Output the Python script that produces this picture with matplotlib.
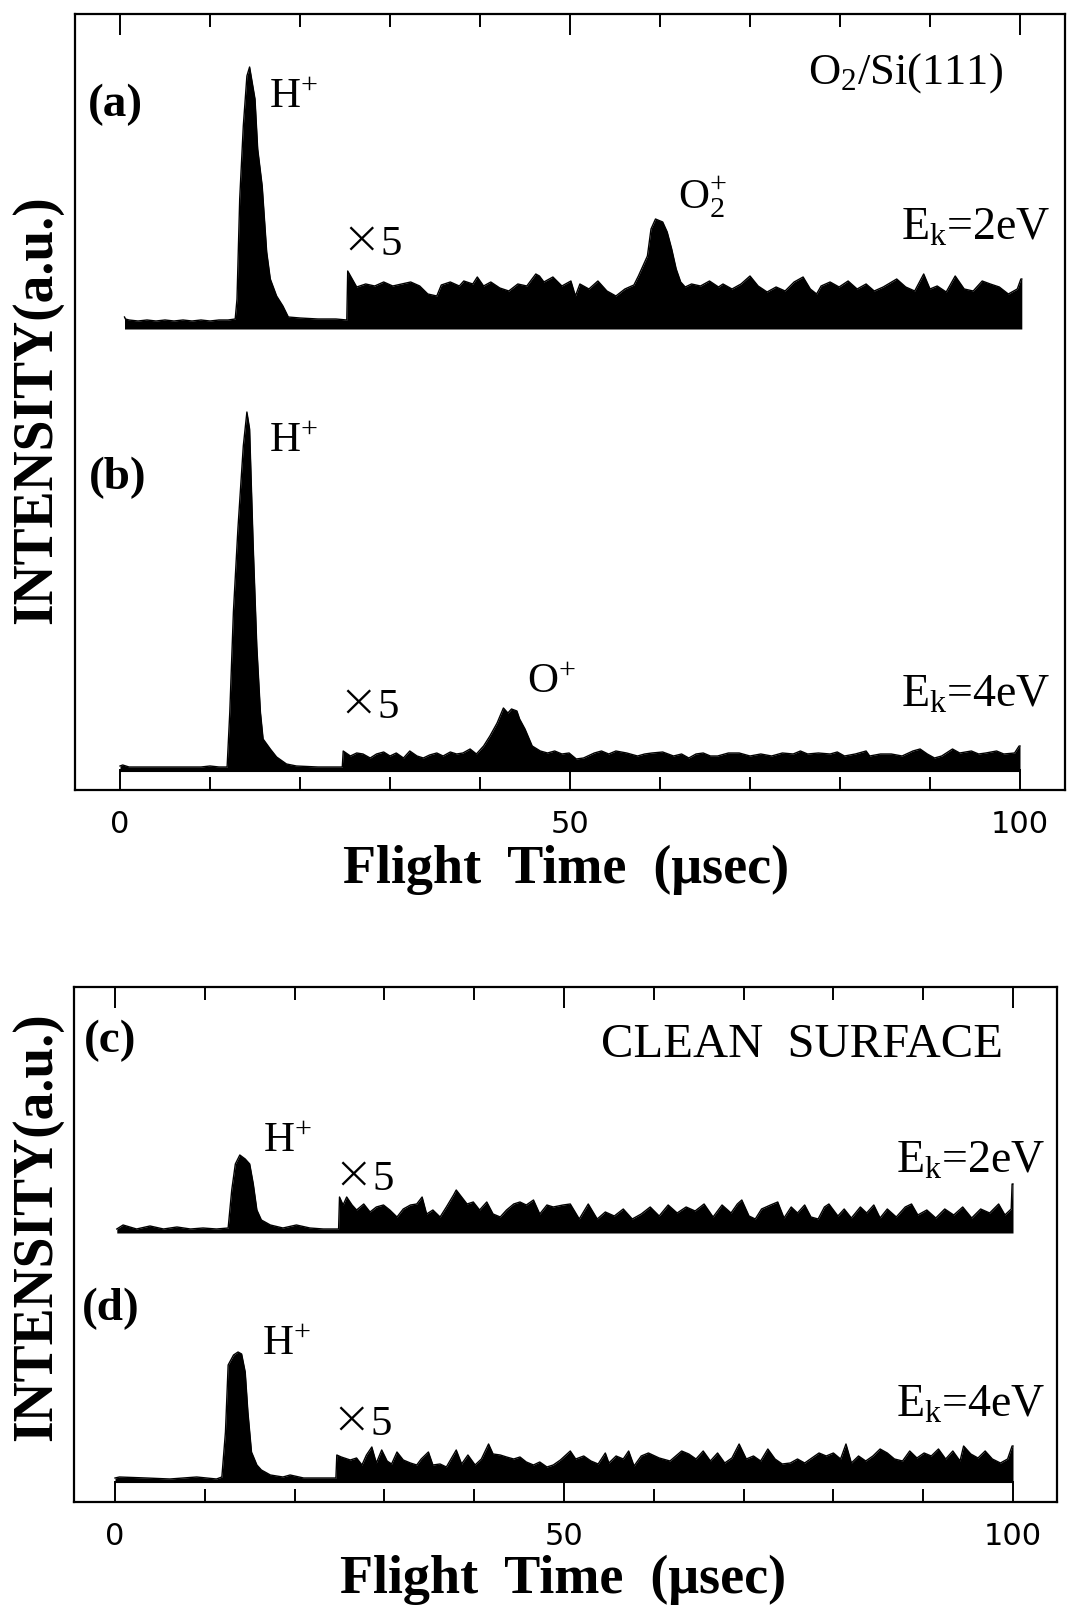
import matplotlib
matplotlib.use("Agg")
import matplotlib.pyplot as plt
import numpy as np

plt.rcParams['font.family'] = ['Liberation Serif', 'DejaVu Serif']
plt.rcParams['mathtext.fontset'] = 'custom'
plt.rcParams['mathtext.rm'] = 'Liberation Serif'
plt.rcParams['mathtext.it'] = 'Liberation Serif:italic'
plt.rcParams['mathtext.bf'] = 'Liberation Serif:bold'

# ---------------- data (intensity in arbitrary units) -------------
# (a) O2/Si(111), Ek = 2 eV  (region t > 25 us shown x5)
a_time = [0.5, 0.6, 1.0, 2.0, 3.0, 4.0, 5.0, 6.0, 7.0, 8.0, 9.0, 10.0, 11.0, 12.0, 12.8, 13.0,
          13.3, 13.7, 14.1, 14.4, 15.0, 15.3, 15.8, 16.3, 16.7, 17.4, 18.1, 18.7, 20.0, 22.0,
          24.0, 25.2, 25.3, 25.8, 26.3, 27.3, 28.3, 29.3, 30.3, 31.3, 32.3, 33.3, 34.2, 35.2,
          35.7, 36.7, 37.7, 38.2, 39.2, 39.7, 40.4, 41.2, 42.2, 43.2, 44.2, 45.2, 46.2, 46.6,
          47.1, 48.1, 49.1, 50.1, 50.6, 51.1, 52.1, 53.1, 54.1, 55.1, 56.1, 57.1, 57.6, 58.1,
          58.6, 59.0, 59.5, 60.3, 60.8, 61.3, 61.8, 62.3, 62.8, 63.5, 64.5, 65.5, 66.5, 67.0,
          68.0, 69.0, 70.0, 70.9, 71.9, 72.9, 73.9, 74.9, 75.9, 76.7, 77.4, 77.9, 78.9, 79.9,
          80.9, 81.9, 82.9, 83.8, 84.8, 86.3, 87.3, 88.3, 89.3, 90.0, 90.8, 91.8, 92.8, 93.8,
          94.8, 95.8, 96.7, 97.7, 98.7, 99.7, 100.1, 100.2]
a_int = [12, 10, 9, 8, 9, 8, 9, 8, 9, 8, 9, 8, 9, 9, 10, 30,
         130, 203, 253, 262, 230, 180, 143, 77, 50, 33, 23, 12, 11, 10,
         10, 9, 58, 50, 42, 45, 43, 47, 43, 45, 47, 43, 35, 33,
         44, 47, 43, 48, 45, 52, 43, 47, 41, 38, 45, 43, 55, 53,
         47, 52, 43, 48, 33, 45, 40, 48, 38, 33, 40, 44, 53, 63,
         73, 100, 110, 107, 97, 80, 60, 47, 42, 45, 43, 48, 42, 45,
         40, 45, 53, 43, 37, 42, 38, 47, 52, 40, 35, 43, 47, 42,
         48, 40, 45, 38, 42, 50, 42, 38, 55, 40, 43, 37, 53, 40,
         38, 48, 45, 42, 35, 40, 50, 50]

# (b) O2/Si(111), Ek = 4 eV
b_time = [0.0, 0.3, 1.0, 3.0, 5.0, 7.0, 9.0, 10.0, 11.0, 11.9, 12.2, 12.6, 13.1, 13.7, 14.1,
          14.4, 14.8, 15.2, 15.6, 15.9, 16.7, 17.4, 18.5, 19.6, 22.0, 24.7, 24.8, 25.6, 26.3,
          27.0, 27.8, 28.5, 29.3, 30.0, 30.7, 31.5, 32.2, 33.0, 33.7, 34.4, 35.2, 35.9, 36.7,
          37.4, 38.1, 38.9, 39.6, 40.4, 41.1, 41.9, 42.6, 43.1, 43.5, 44.1, 44.4, 45.0, 45.8,
          46.7, 47.5, 48.3, 49.1, 49.9, 50.7, 51.5, 52.7, 53.5, 54.3, 55.1, 56.3, 57.5, 58.3,
          59.1, 60.3, 61.5, 62.4, 63.2, 64.0, 64.8, 65.6, 66.4, 67.6, 68.8, 70.0, 71.2, 72.4,
          73.6, 74.8, 75.6, 76.4, 77.6, 78.9, 79.7, 80.5, 81.7, 82.9, 83.3, 84.5, 85.7, 86.9,
          88.1, 88.9, 89.7, 90.5, 91.3, 92.5, 93.3, 94.6, 95.4, 96.2, 97.4, 98.2, 99.4, 99.9,
          100.0]
b_int = [5, 6, 4, 4, 4, 4, 4, 5, 4, 4, 59, 159, 242, 325, 359,
         342, 225, 125, 59, 32, 22, 14, 7, 5, 4, 4, 20, 15, 18,
         17, 13, 17, 19, 15, 18, 13, 20, 15, 13, 16, 18, 15, 19,
         17, 18, 22, 17, 25, 35, 48, 63, 58, 62, 60, 52, 42, 25,
         20, 18, 20, 17, 18, 12, 13, 18, 20, 17, 20, 18, 15, 17,
         18, 19, 15, 17, 13, 17, 18, 15, 15, 18, 18, 15, 17, 15,
         18, 17, 20, 17, 18, 17, 19, 15, 17, 20, 15, 17, 17, 15,
         20, 22, 17, 13, 15, 22, 18, 20, 17, 18, 20, 17, 18, 25,
         25]

# (c) clean surface, Ek = 2 eV
c_time = [0.2, 0.9, 2.4, 3.9, 5.4, 6.9, 8.4, 9.8, 11.3, 12.6, 13.0, 13.4, 13.9, 14.5, 15.0,
          15.4, 15.8, 16.3, 17.3, 18.7, 20.2, 21.7, 23.2, 24.9, 25.0, 25.4, 25.8, 26.4, 26.9,
          27.7, 28.4, 29.1, 29.9, 30.6, 31.4, 32.1, 32.9, 33.6, 34.2, 34.7, 35.4, 36.2, 36.9,
          37.7, 38.0, 38.6, 39.2, 39.9, 40.6, 41.4, 42.1, 42.9, 43.6, 44.4, 45.1, 45.8, 46.6,
          47.3, 48.1, 48.8, 49.9, 50.7, 51.7, 52.7, 53.7, 54.6, 55.6, 56.6, 57.6, 58.6, 59.6,
          60.6, 61.6, 62.6, 63.6, 64.6, 65.6, 66.6, 67.6, 68.6, 69.3, 69.8, 70.6, 71.3, 72.0,
          73.0, 73.8, 74.5, 75.3, 76.0, 76.8, 77.5, 78.3, 79.0, 79.5, 80.5, 81.2, 82.0, 83.0,
          83.7, 84.5, 85.2, 86.0, 87.0, 88.0, 88.7, 89.4, 90.4, 91.4, 92.4, 93.4, 94.4, 95.4,
          96.4, 97.4, 98.4, 99.1, 99.8, 99.9, 100.0]
c_int = [4, 8, 4, 7, 4, 6, 4, 5, 4, 5, 43, 69, 78, 74, 69,
         49, 23, 13, 8, 5, 8, 5, 4, 4, 36, 28, 36, 28, 23,
         29, 21, 26, 28, 23, 16, 24, 28, 29, 36, 19, 23, 16, 26,
         38, 43, 36, 29, 31, 23, 31, 19, 16, 23, 29, 31, 28, 33,
         19, 28, 26, 28, 29, 14, 29, 14, 21, 17, 24, 14, 19, 26,
         17, 28, 20, 26, 22, 29, 16, 28, 20, 29, 33, 17, 14, 24,
         28, 31, 15, 26, 20, 28, 16, 14, 26, 29, 17, 24, 15, 26,
         20, 28, 15, 24, 16, 26, 29, 18, 23, 15, 24, 18, 26, 15,
         24, 20, 29, 18, 24, 49, 49]

# (d) clean surface, Ek = 4 eV
d_time = [0.0, 0.5, 3.5, 6.1, 9.1, 11.3, 11.9, 12.3, 12.6, 13.2, 13.7, 14.1, 14.5, 14.8, 15.2,
          15.8, 16.3, 17.3, 18.7, 19.5, 21.0, 24.6, 24.7, 25.2, 26.2, 26.9, 27.5, 28.0, 28.6,
          29.1, 29.7, 30.3, 30.8, 31.4, 32.1, 32.9, 33.6, 34.1, 34.9, 35.4, 36.2, 36.9, 38.0,
          38.6, 39.3, 40.1, 40.8, 41.6, 42.1, 42.9, 43.6, 44.4, 45.1, 45.8, 46.6, 47.3, 48.1,
          48.8, 49.6, 50.7, 51.3, 52.2, 53.0, 53.8, 54.6, 55.0, 55.8, 56.6, 57.2, 57.8, 58.6,
          59.4, 60.6, 61.8, 63.1, 63.9, 64.7, 65.5, 66.3, 67.1, 67.9, 68.7, 69.5, 70.3, 71.1,
          71.9, 72.7, 73.5, 74.3, 75.2, 76.0, 76.8, 77.6, 78.4, 79.2, 80.0, 80.8, 81.4, 82.0,
          82.8, 83.6, 84.4, 85.2, 86.0, 86.8, 87.7, 88.5, 89.3, 90.1, 90.9, 91.7, 92.5, 93.3,
          94.1, 94.5, 95.3, 96.1, 96.9, 97.7, 98.6, 99.4, 99.9, 100.0]
d_int = [4, 5, 4, 3, 5, 3, 5, 50, 117, 127, 130, 128, 110, 70, 30,
         17, 12, 7, 5, 7, 4, 4, 27, 25, 22, 24, 17, 27, 35,
         19, 32, 21, 18, 30, 22, 19, 17, 23, 30, 17, 18, 15, 32,
         18, 27, 17, 23, 38, 28, 27, 25, 23, 25, 20, 17, 20, 15,
         17, 22, 31, 23, 26, 21, 18, 29, 19, 26, 23, 31, 16, 26,
         29, 24, 21, 31, 28, 23, 31, 21, 29, 19, 24, 38, 23, 26,
         21, 33, 23, 18, 19, 23, 19, 24, 29, 26, 29, 23, 38, 19,
         26, 21, 26, 33, 29, 23, 21, 31, 24, 29, 26, 33, 23, 31,
         21, 36, 28, 24, 31, 23, 19, 23, 36, 36]

tick_major = [0, 50, 100]
tick_minor = [10, 20, 30, 40, 60, 70, 80, 90]
tick_labels = ['0', '50', '100']

# ---------------- layout ----------------
W, H = 1068, 1606
fig = plt.figure(figsize=(W / 100, H / 100), dpi=100)

def fx(x):
    return x / W

def fy(y):
    return 1 - y / H

ax1 = fig.add_axes([fx(75), fy(791), (1065 - 75) / W, (791 - 15) / H])
ax1.set_xlim((75 - 120) / 9.0, (1065 - 120) / 9.0)
ax1.set_ylim(0, 776)
ax2 = fig.add_axes([fx(74), fy(1503), (1057 - 74) / W, (1503 - 988) / H])
ax2.set_xlim((74 - 115) / 8.98, (1057 - 115) / 8.98)
ax2.set_ylim(0, 515)

def draw(ax, t, v, base):
    t = np.asarray(t, float)
    v = np.asarray(v, float)
    ax.fill_between(t, base, base + v, color='black', lw=0)
    ax.plot(t, base + v, color='black', lw=1.0)

draw(ax1, a_time, a_int, 461)
draw(ax1, b_time, b_int, 19)
draw(ax2, c_time, c_int, 269)
draw(ax2, d_time, d_int, 20)

for ax, bar in ((ax1, 19), (ax2, 20)):
    ax.plot([0, 100], [bar, bar], color='black', lw=1.5, solid_capstyle='butt')
    for s in ax.spines.values():
        s.set_linewidth(1.6)
    ax.set_yticks([])
    ax.set_xticks(tick_major)
    ax.set_xticks(tick_minor, minor=True)
    ax.set_xticklabels(tick_labels, fontfamily='DejaVu Sans', fontsize=22)
    ax.tick_params(axis='x', which='major', direction='in', length=15, width=1.4,
                   top=True, bottom=True, pad=14)
    ax.tick_params(axis='x', which='minor', direction='in', length=9.5, width=1.4,
                   top=True, bottom=True)

# ---------------- texts ----------------
def txt(x, y, s, size=31, ha='left', va='baseline', weight='normal', **kw):
    fig.text(fx(x), fy(y), s, fontsize=size, ha=ha, va=va, fontweight=weight, **kw)

def times5(x, y):
    fig.text(fx(x - 2), fy(y - 1), '×', fontsize=34, ha='left', va='baseline',
             fontfamily='DejaVu Sans', fontweight='light')
    fig.text(fx(x + 37), fy(y), '5', fontsize=31, ha='left', va='baseline')

# top panel
txt(115, 105, '(a)', 34, ha='center', va='center', weight='bold')
txt(269, 108, 'H$^{+}$')
times5(343, 255)
txt(678, 208, 'O$_{2}^{+}$')
txt(1003, 84, 'O$_{2}$/Si(111)', 32, ha='right')
txt(1050, 240, 'E$_{\\mathrm{k}}$=2eV', 33, ha='right')
txt(118, 478, '(b)', 34, ha='center', va='center', weight='bold')
txt(269, 452, 'H$^{+}$')
times5(340, 718)
txt(527, 693, 'O$^{+}$')
txt(1050, 707, 'E$_{\\mathrm{k}}$=4eV', 33, ha='right')
txt(566, 883, 'Flight  Time  (μsec)', 39, ha='center', weight='bold')
txt(37, 410, 'INTENSITY(a.u.)', 40, ha='center', va='center', weight='bold', rotation=90)

# bottom panel
txt(110, 1041, '(c)', 34, ha='center', va='center', weight='bold')
txt(1003, 1057, 'CLEAN  SURFACE', 35, ha='right')
txt(263, 1152, 'H$^{+}$')
times5(335, 1190)
txt(1045, 1173, 'E$_{\\mathrm{k}}$=2eV', 33, ha='right')
txt(111, 1309, '(d)', 34, ha='center', va='center', weight='bold')
txt(262, 1355, 'H$^{+}$')
times5(333, 1435)
txt(1045, 1417, 'E$_{\\mathrm{k}}$=4eV', 33, ha='right')
txt(563, 1593, 'Flight  Time  (μsec)', 39, ha='center', weight='bold')
txt(37, 1227, 'INTENSITY(a.u.)', 40, ha='center', va='center', weight='bold', rotation=90)

fig.savefig('out.png', dpi=100)
